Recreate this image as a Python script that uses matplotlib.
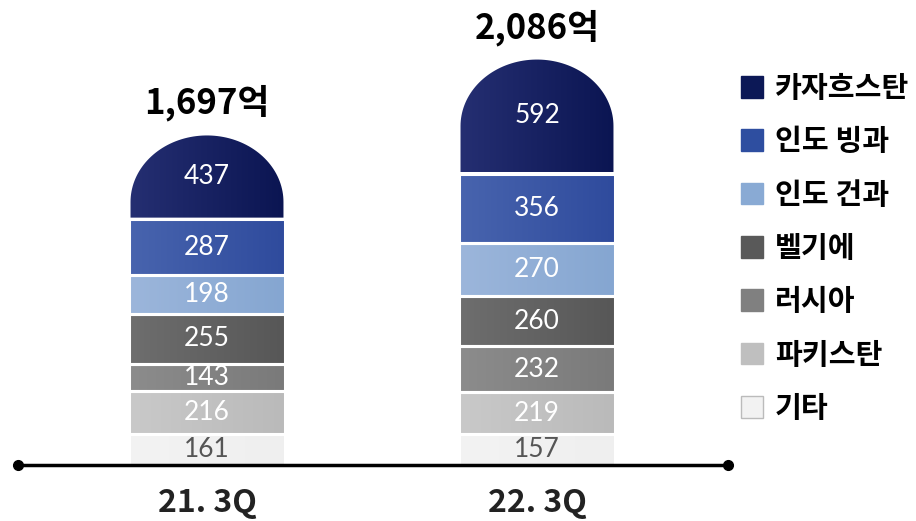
import numpy as np
import matplotlib.pyplot as plt
from matplotlib.patches import Patch, Polygon
from matplotlib.colors import to_rgb

# 데이터
quarters = ['21. 3Q', '22. 3Q']
regions = ['기타', '파키스탄', '러시아', '벨기에', '인도 건과', '인도 빙과', '카자흐스탄']
val_21 = [161, 216, 143, 255, 198, 287, 437]
val_22 = [157, 219, 232, 260, 270, 356, 592]
total_labels = ['1,697억', '2,086억']

# 스타일
legend_colors = ['#f2f2f2', '#bfbfbf', '#808080', '#595959', '#89aad4', '#2e4ea0', '#0c1856']
grad_left = ['#f3f3f3', '#c9c9c9', '#8c8c8c', '#6e6e6e', '#9cb6db', '#4864ae', '#252f72']
grad_right = ['#efefef', '#bababa', '#7a7a7a', '#575757', '#85a6d1', '#2f4b9d', '#0b1552']
num_colors = ['#555555'] + ['white'] * 6

kr_font = ['Noto Sans CJK KR', 'DejaVu Sans']
num_font = ['Lato', 'DejaVu Sans']

W, H = 916, 521
fig = plt.figure(figsize=(W / 100, H / 100), dpi=100)
ax = fig.add_axes([0, 0, 1, 1])
ax.axis('off')

px_x = 330.0      # px per category unit
px_y = 0.1951     # px per value unit
x_left = -207 / px_x
x_right = x_left + W / px_x
y_bottom = -56 / px_y
y_top = y_bottom + H / px_y

bar_w = 156 / px_x
cap_h = 68 / px_y


def gradient(c0, c1, n=64):
    a = np.array(to_rgb(c0))
    b = np.array(to_rgb(c1))
    t = np.linspace(0, 1, n)[:, None]
    return (a + (b - a) * t)[None, :, :]


for i, vals in enumerate([val_21, val_22]):
    bottoms = np.concatenate([[0], np.cumsum(vals)[:-1]])
    x0, x1 = i - bar_w / 2, i + bar_w / 2
    for j, (v, b) in enumerate(zip(vals, bottoms)):
        top = b + v
        if j == len(vals) - 1:
            t = np.linspace(0, np.pi, 80)
            arc = np.column_stack([i + bar_w / 2 * np.cos(t),
                                   top - cap_h + cap_h * np.sin(t)])
            verts = np.vstack([[x0, b], [x1, b], arc])
        else:
            verts = [[x0, b], [x1, b], [x1, top], [x0, top]]
        poly = Polygon(verts, closed=True, facecolor='none', edgecolor='white',
                       linewidth=2.2, zorder=3)
        ax.add_patch(poly)
        im = ax.imshow(gradient(grad_left[j], grad_right[j]), aspect='auto',
                       extent=(x0, x1, b, top), zorder=2, interpolation='bilinear')
        im.set_clip_path(poly)
        ax.text(i, b + v / 2, str(v), ha='center', va='center', fontsize=19,
                color=num_colors[j], family=num_font, fontweight='normal', zorder=4)
    ax.annotate(total_labels[i], xy=(i, sum(vals)), xytext=(0, 9),
                textcoords='offset points', ha='center', va='bottom',
                fontsize=25, fontweight='bold', family=kr_font, color='black')
    ax.annotate(quarters[i], xy=(i, 0), xytext=(0, -16),
                textcoords='offset points', ha='center', va='top',
                fontsize=23, fontweight='bold', family=kr_font, color='#222222')

# 축선
lx0, lx1 = 18 / W, 728 / W
ax.axhline(0, xmin=lx0, xmax=lx1, color='black', linewidth=2.5, zorder=5)
ax.plot([x_left + 18 / px_x, x_left + 728 / px_x], [0, 0], 'o', color='black',
        markersize=7, zorder=6)

ax.set_xlim(x_left, x_right)
ax.set_ylim(y_bottom, y_top)

# 범례
handles = [Patch(facecolor=legend_colors[k],
                 edgecolor='#bbbbbb' if k == 0 else legend_colors[k],
                 label=regions[k]) for k in range(len(regions))][::-1]
ax.legend(handles=handles, loc='upper left', bbox_to_anchor=(741 / W, 1 - 73 / H),
          frameon=False, borderpad=0, borderaxespad=0, handlelength=0.76,
          handleheight=0.76, handletextpad=0.4, labelspacing=0.8,
          prop={'family': kr_font, 'weight': 'bold', 'size': 21})

fig.savefig('out.png', dpi=100, facecolor='white')
